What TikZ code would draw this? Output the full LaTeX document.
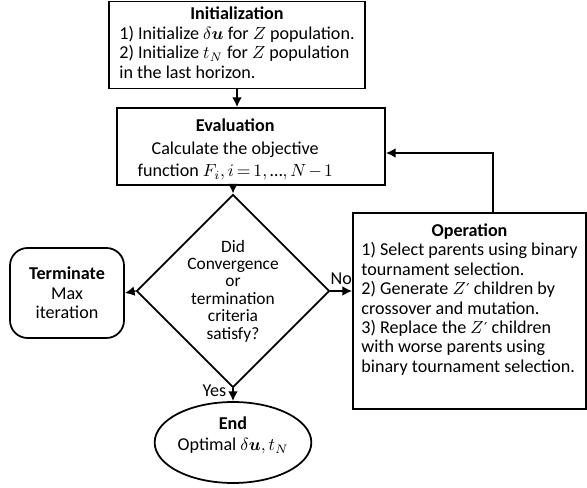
\documentclass[tikz,border=0pt]{standalone}
\usepackage{amsmath}
\usepackage{bm}
\usepackage{fontspec}
\setmainfont{Carlito}
\newfontfamily\primefont{DejaVu Sans}
\newcommand{\zprime}{$Z$\kern0.3pt{\fontsize{8.5}{8.5}\primefont ′}}
\usepackage{tikz}
\usetikzlibrary{positioning, arrows.meta, shapes.geometric, calc}

\begin{document}
\begin{tikzpicture}[
    every node/.style={font=\fontsize{10.3}{11.05}\selectfont},
    box/.style={draw, rectangle, line width=1pt, inner sep=0pt},
    decide/.style={draw, diamond, line width=1pt, inner sep=0pt, align=center,
        font=\fontsize{9.9}{9.9}\selectfont},
    term/.style={draw, rectangle, rounded corners=10pt, line width=1pt, align=center},
    stop/.style={draw, ellipse, line width=1pt, inner sep=0pt, align=center},
    flow/.style={line width=1pt, -{Latex[length=5.5pt, width=5.5pt]}},
    lbl/.style={font=\fontsize{10.3}{11}\selectfont},
]
\useasboundingbox (0,0) rectangle (11.74,-9.76);

% Boxes
\node[box, minimum width=5.12cm, minimum height=1.74cm]
    (init) at (4.74,-0.9)
    {\begin{tabular}{@{}l@{}}
     \multicolumn{1}{@{}c@{}}{\textbf{Initialization}}\\
     1) Initialize $\delta\bm{u}$ for $Z$ population.\\
     2) Initialize $t_N$ for $Z$ population\\
     in the last horizon.
     \end{tabular}};

\node[box, minimum width=5.36cm, minimum height=1.54cm]
    (eval) at (5.02,-2.93)
    {\begin{tabular}{@{}c@{\hspace{18pt}}}
     \rule{0pt}{12pt}\textbf{Evaluation}\\[1.7pt]
     Calculate the objective\\[1.7pt]
     function $\medmuskip=2mu \thickmuskip=3mu F_i, i = 1, \text{…}, N-1$
     \end{tabular}};

\node[decide, minimum width=3.86cm, minimum height=3.56cm]
    (check) at (4.66,-5.82)
    {Did\\Convergence\\or\\termination\\criteria\\satisfy?};

\node[term, minimum width=2.28cm, minimum height=1.8cm]
    (stopit) at (1.34,-5.86)
    {\textbf{Terminate}\\Max\\iteration};

\node[box, minimum width=4.66cm, minimum height=3.92cm]
    (oper) at (9.39,-6.22)
    {\begin{tabular}{@{}l@{}}
     \multicolumn{1}{@{}c@{}}{\textbf{Operation}}\\
     1) Select parents using binary\\
     tournament selection.\\
     2) Generate \zprime{} children by\\
     crossover and mutation.\\
     3) Replace the \zprime{} children\\
     with worse parents using\\
     binary tournament selection.\\[12pt]
     \end{tabular}};

\node[stop, minimum width=3.12cm, minimum height=1.62cm]
    (fin) at (4.66,-8.85)
    {\textbf{End}\\[1pt]Optimal $\delta\bm{u}, t_N$\\[-1pt]};

% Connectors
\draw[flow] (init.south) -- (init.south |- eval.north);
\draw[flow] (eval.south -| check.north) -- (check.north);
\draw[flow] (check.west) -- (stopit.east);
\draw[flow] (check.east) -- node[above, lbl] {No} (oper.west |- check.east);
\draw[flow] (check.south) -- node[left, lbl, pos=0.17] {Yes} (fin.north);
\draw[flow] (oper.north -| 9.86,0) |- ($(eval.east)+(0,-0.13)$);
\end{tikzpicture}
\end{document}
